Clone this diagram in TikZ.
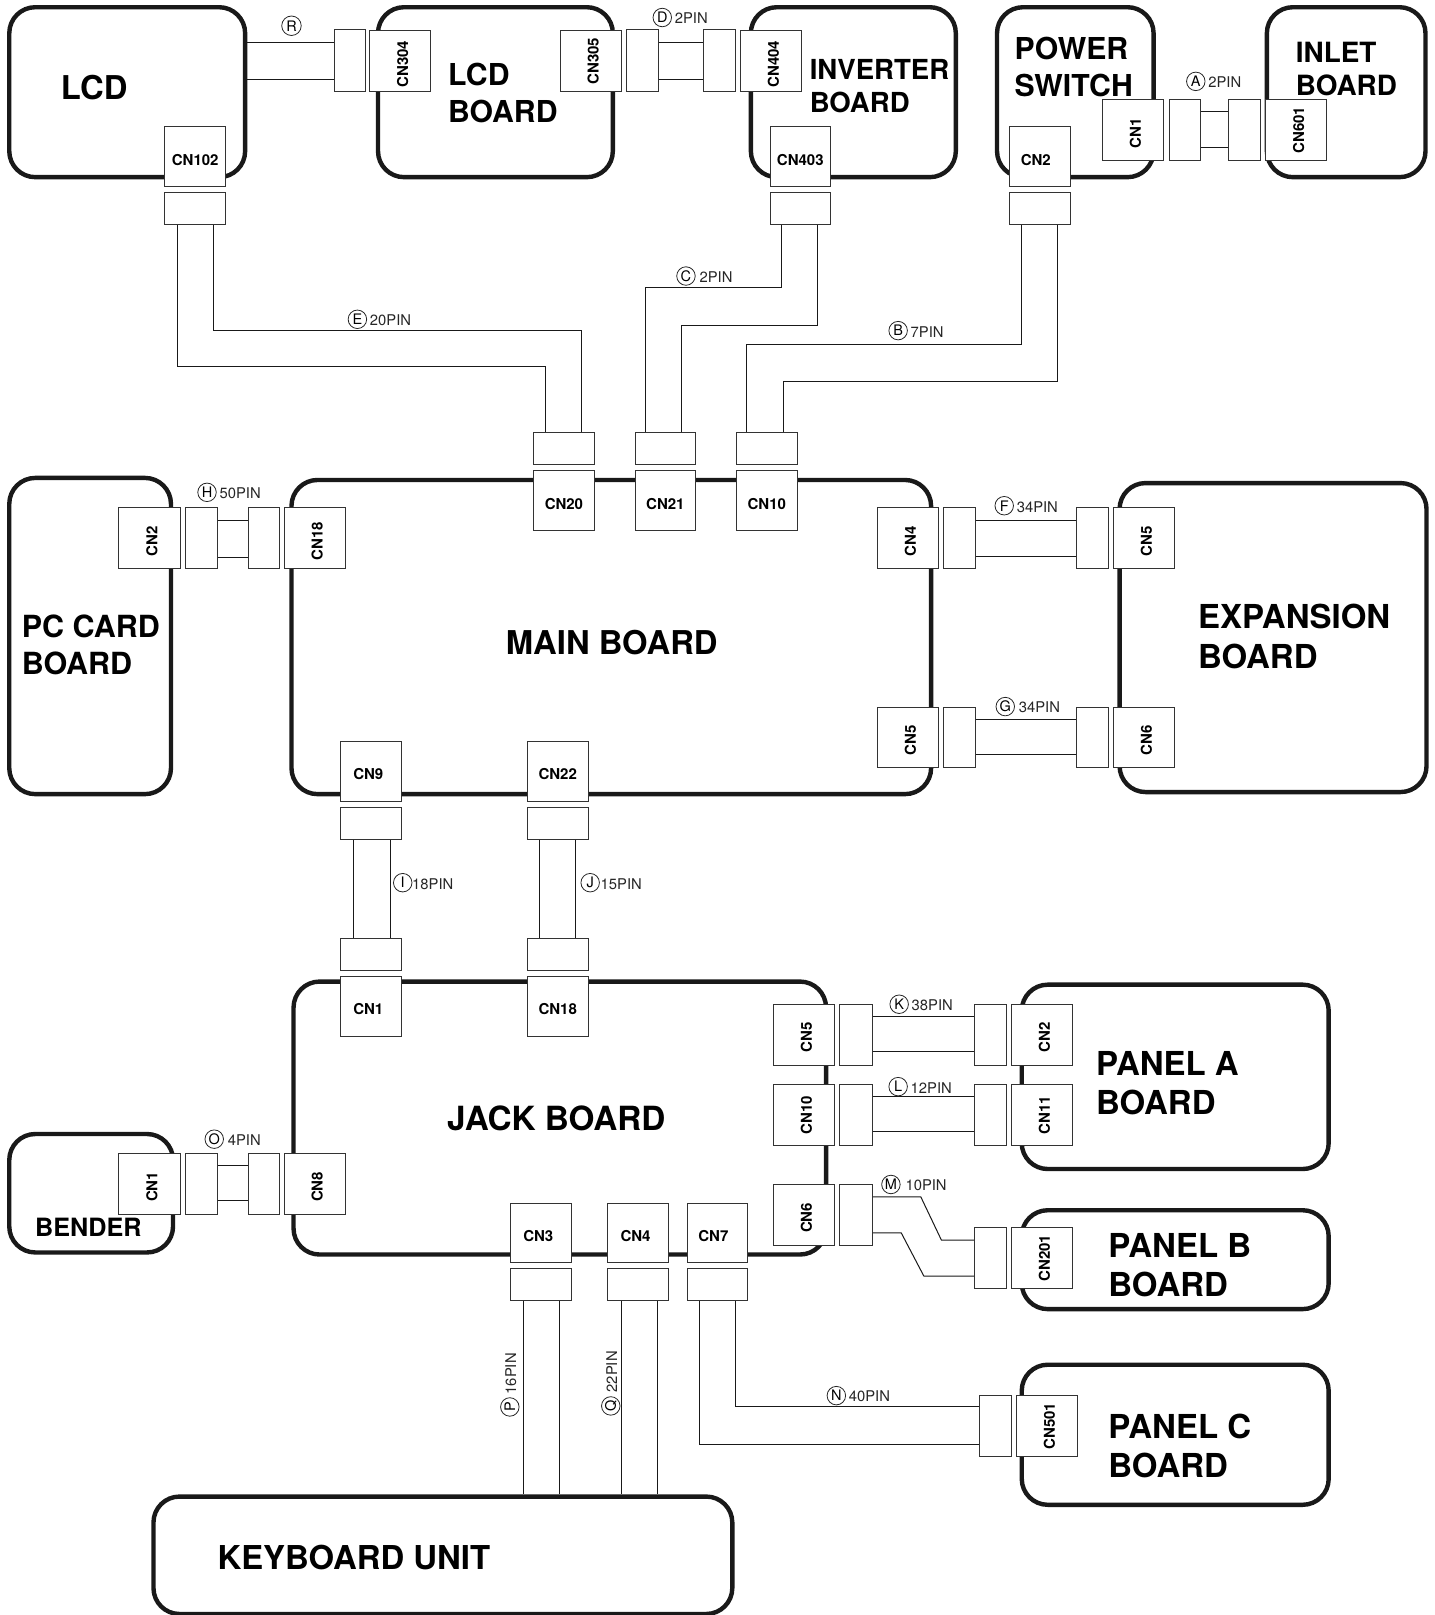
\documentclass[tikz,border=0pt]{standalone}
\usepackage{fontspec}
\usepackage{graphicx}
\setmainfont{TeX Gyre Heros}
\newcommand{\fsz}[1]{\fontsize{#1}{#1}\selectfont}
\tikzset{
  x=1.0301pt,y=-1.0301pt,
  board/.style={draw=black!90,line width=4.4pt,rounded corners=26pt,fill=white},
  boxbase/.style={draw=black!80,line width=1pt,fill=white,inner sep=0pt,font=\bfseries\fsz{15}},
  wire/.style={draw=black!90,line width=1pt},
  title/.style={inner sep=0pt,anchor=west,align=left,font=\bfseries\fsz{32.8}},
  ringmark/.style={draw=black!85,line width=0.8pt,circle,minimum size=18.5pt,inner sep=0pt,font=\fsz{14.5}},
  pintext/.style={inner sep=0pt,anchor=west,font=\fsz{14.8},text=black!85},
}
% \bx[style]{name}{x1}{y1}{x2}{y2}{text}
\newcommand{\bx}[7][boxbase]{%
  \pgfmathsetmacro{\cxx}{(#3+#5)/2}\pgfmathsetmacro{\cyy}{(#4+#6)/2}%
  \pgfmathsetmacro{\www}{(#5-#3)*1.0301}\pgfmathsetmacro{\hhh}{(#6-#4)*1.0301}%
  \node[#1,minimum width=\www pt,minimum height=\hhh pt] (#2) at (\cxx,\cyy) {#7};}
% printed labels sit off centre in their boxes
\newcommand{\low}[2][3pt]{\raisebox{-#1}[\height][\depth]{#2}}
\newcommand{\rot}[1]{\hspace*{5pt}\low{\rotatebox{90}{#1}}}
\newcommand{\rotb}[1]{\hspace*{5pt}\rotatebox{90}{#1}}
\newcommand{\hz}[1]{\low{#1}}
\newcommand{\hzl}[2]{\low{#1}\hspace*{#2}}
% \pin{name}{cx}{cy}{letter}{textx}{text}
\newcommand{\pin}[6]{%
  \node[ringmark] (r#1) at (#2,#3) {#4};
  \node[pintext] (t#1) at (#5,#3+1) {#6};}
\begin{document}
\begin{tikzpicture}
\useasboundingbox (0,0) rectangle (1393,1568);
% boards
\bx[board]{lcd}{9}{7}{238}{172}{}
\bx[board]{lcdb}{367}{7}{595}{172}{}
\bx[board]{inv}{729}{7}{928}{172}{}
\bx[board]{pow}{968}{7}{1120}{172}{}
\bx[board]{inl}{1230}{7}{1384}{172}{}
\bx[board]{pcc}{9}{464}{166}{771}{}
\bx[board]{main}{283}{466}{904}{771}{}
\bx[board]{exp}{1087}{469}{1385}{769}{}
\bx[board]{jack}{285}{953}{802}{1218}{}
\bx[board]{bend}{9}{1101}{168}{1216}{}
\bx[board]{pa}{992}{956}{1290}{1135}{}
\bx[board]{pb}{992}{1175}{1290}{1271}{}
\bx[board]{pc}{992}{1325}{1290}{1461}{}
\bx[board]{kb}{149}{1453}{711}{1567}{}
% titles
\node[title] (tlcd) at (59,85) {LCD};
\node[title,font=\bfseries\fontsize{30.2}{37}\selectfont] (tlcdb) at (435,90) {LCD\\BOARD};
\node[title,font=\bfseries\fontsize{27.6}{33}\selectfont] (tinv) at (786,84) {INVERTER\\BOARD};
\node[title,font=\bfseries\fontsize{30.2}{37}\selectfont] (tpow) at (985,65) {POWER\\SWITCH};
\node[title,font=\bfseries\fontsize{27.9}{33}\selectfont] (tinl) at (1258,67) {INLET\\BOARD};
\node[title,font=\bfseries\fontsize{30.5}{37}\selectfont] (tpcc) at (21,626) {PC CARD\\BOARD};
\node[title] (tmain) at (491,624) {MAIN BOARD};
\node[title,font=\bfseries\fontsize{33}{40}\selectfont] (texp) at (1163,618) {EXPANSION\\BOARD};
\node[title,font=\bfseries\fsz{33.3}] (tjack) at (434,1086) {JACK BOARD};
\node[title,font=\bfseries\fsz{25.2}] (tbend) at (34,1192) {BENDER};
\node[title,font=\bfseries\fontsize{33}{39}\selectfont] (tpa) at (1064,1052) {PANEL A\\BOARD};
\node[title,font=\bfseries\fontsize{33}{39}\selectfont] (tpb) at (1076,1228) {PANEL B\\BOARD};
\node[title,font=\bfseries\fontsize{33}{39}\selectfont] (tpc) at (1076,1404) {PANEL C\\BOARD};
\node[title,font=\bfseries\fsz{32.9}] (tkb) at (211,1512) {KEYBOARD UNIT};
% top row connectors
\bx{c304}{359}{30}{418}{89}{\rot{CN304}}
\bx{p304}{325}{29}{355}{89}{}
\bx{c305}{544}{30}{603}{89}{\rotb{CN305}}
\bx{p305}{608}{29}{639}{89}{}
\bx{p404}{683}{29}{714}{89}{}
\bx{c404}{719}{30}{778}{89}{\rot{CN404}}
\bx{c102}{160}{123}{219}{181}{\hz{CN102}}
\bx{p102}{160}{187}{219}{218}{}
\bx{c403}{748}{123}{806}{181}{\hz{CN403}}
\bx{p403}{748}{187}{806}{218}{}
\bx{cps2}{980}{123}{1039}{181}{\hzl{CN2}{8pt}}
\bx{pps2}{980}{187}{1039}{218}{}
\bx{cps1}{1070}{97}{1130}{156}{\rot{CN1}}
\bx{pps1}{1135}{97}{1166}{156}{}
\bx{p601}{1193}{97}{1224}{156}{}
\bx{c601}{1229}{97}{1288}{156}{\rotb{CN601}}
% main board connectors
\bx{p20}{518}{420}{577}{451}{}
\bx{c20}{518}{457}{577}{515}{\hz{CN20}}
\bx{p21}{617}{420}{675}{451}{}
\bx{c21}{617}{457}{675}{515}{\hz{CN21}}
\bx{p10}{715}{420}{774}{451}{}
\bx{c10}{715}{457}{774}{515}{\hz{CN10}}
\bx{cpc2}{115}{493}{175}{552}{\rot{CN2}}
\bx{ppc2}{180}{493}{211}{552}{}
\bx{p18}{241}{493}{271}{552}{}
\bx{c18}{276}{493}{335}{552}{\rot{CN18}}
\bx{cm4}{852}{493}{911}{552}{\rot{CN4}}
\bx{pm4}{916}{493}{947}{552}{}
\bx{pe5}{1045}{493}{1076}{552}{}
\bx{ce5}{1081}{493}{1140}{552}{\rot{CN5}}
\bx{cm5}{852}{687}{911}{745}{\rot{CN5}}
\bx{pm5}{916}{687}{947}{745}{}
\bx{pe6}{1045}{687}{1076}{745}{}
\bx{ce6}{1081}{687}{1140}{745}{\rot{CN6}}
\bx{c9}{331}{720}{390}{778}{\hzl{CN9}{6pt}}
\bx{p9}{331}{784}{390}{815}{}
\bx{pj1}{331}{911}{390}{942}{}
\bx{cj1}{331}{948}{390}{1006}{\hzl{CN1}{6pt}}
\bx{c22}{512}{720}{571}{778}{\hz{CN22}}
\bx{p22}{512}{784}{571}{815}{}
\bx{pj18}{512}{911}{571}{942}{}
\bx{cj18}{512}{948}{571}{1006}{\hz{CN18}}
% jack board connectors
\bx{cj5}{751}{975}{810}{1034}{\rot{CN5}}
\bx{pj5}{815}{975}{847}{1034}{}
\bx{pa2}{946}{975}{977}{1034}{}
\bx{ca2}{982}{975}{1041}{1034}{\rot{CN2}}
\bx{cj10}{751}{1053}{810}{1112}{\rotb{CN10}}
\bx{pj10}{815}{1053}{847}{1112}{}
\bx{pa11}{946}{1053}{977}{1112}{}
\bx{ca11}{982}{1053}{1041}{1112}{\rotb{CN11}}
\bx{cj6}{751}{1150}{810}{1209}{\rot{CN6}}
\bx{pj6}{815}{1150}{847}{1209}{}
\bx{pb201}{946}{1192}{977}{1251}{}
\bx{cb201}{982}{1192}{1041}{1251}{\rotb{CN201}}
\bx{cb1}{115}{1120}{175}{1179}{\rot{CN1}}
\bx{pb1}{180}{1120}{211}{1179}{}
\bx{pj8}{241}{1120}{271}{1179}{}
\bx{cj8}{276}{1120}{335}{1179}{\rot{CN8}}
\bx{cj3}{496}{1168}{555}{1226}{\hzl{CN3}{6pt}}
\bx{pj3}{496}{1232}{555}{1263}{}
\bx{cj4}{590}{1168}{649}{1226}{\hzl{CN4}{5pt}}
\bx{pj4}{590}{1232}{649}{1263}{}
\bx{cj7}{667}{1168}{726}{1226}{\hzl{CN7}{8pt}}
\bx{pj7}{667}{1232}{726}{1263}{}
\bx{pc501}{951}{1355}{982}{1414}{}
\bx{cc501}{987}{1355}{1046}{1414}{\rotb{CN501}}
% wires
\draw[wire] (lcd.east |- 0,41) -- (p304.west |- 0,41);
\draw[wire] (lcd.east |- 0,77) -- (p304.west |- 0,77);
\draw[wire] (p305.east |- 0,41) -- (p404.west |- 0,41);
\draw[wire] (p305.east |- 0,77) -- (p404.west |- 0,77);
\draw[wire] (pps1.east |- 0,108) -- (p601.west |- 0,108);
\draw[wire] (pps1.east |- 0,143) -- (p601.west |- 0,143);
\draw[wire] (p102.south -| 172,0) -- (172,356) -- (530,356) -- (p20.north -| 530,0);
\draw[wire] (p102.south -| 207,0) -- (207,321) -- (565,321) -- (p20.north -| 565,0);
\draw[wire] (p403.south -| 759,0) -- (759,279) -- (627,279) -- (p21.north -| 627,0);
\draw[wire] (p403.south -| 794,0) -- (794,316) -- (662,316) -- (p21.north -| 662,0);
\draw[wire] (pps2.south -| 992,0) -- (992,334) -- (725,334) -- (p10.north -| 725,0);
\draw[wire] (pps2.south -| 1027,0) -- (1027,370) -- (761,370) -- (p10.north -| 761,0);
\draw[wire] (ppc2.east |- 0,505) -- (p18.west |- 0,505);
\draw[wire] (ppc2.east |- 0,541) -- (p18.west |- 0,541);
\draw[wire] (pm4.east |- 0,505) -- (pe5.west |- 0,505);
\draw[wire] (pm4.east |- 0,540) -- (pe5.west |- 0,540);
\draw[wire] (pm5.east |- 0,699) -- (pe6.west |- 0,699);
\draw[wire] (pm5.east |- 0,733) -- (pe6.west |- 0,733);
\draw[wire] (p9.south -| 343,0) -- (pj1.north -| 343,0);
\draw[wire] (p9.south -| 379,0) -- (pj1.north -| 379,0);
\draw[wire] (p22.south -| 524,0) -- (pj18.north -| 524,0);
\draw[wire] (p22.south -| 559,0) -- (pj18.north -| 559,0);
\draw[wire] (pj5.east |- 0,987) -- (pa2.west |- 0,987);
\draw[wire] (pj5.east |- 0,1021) -- (pa2.west |- 0,1021);
\draw[wire] (pj10.east |- 0,1065) -- (pa11.west |- 0,1065);
\draw[wire] (pj10.east |- 0,1099) -- (pa11.west |- 0,1099);
\draw[wire] (pj6.east |- 0,1162) -- (894,1162) -- (914,1204) -- (pb201.west |- 0,1204);
\draw[wire] (pj6.east |- 0,1197) -- (875,1197) -- (897,1239) -- (pb201.west |- 0,1239);
\draw[wire] (pb1.east |- 0,1132) -- (pj8.west |- 0,1132);
\draw[wire] (pb1.east |- 0,1166) -- (pj8.west |- 0,1166);
\draw[wire] (pj3.south -| 508,0) -- (kb.north -| 508,0);
\draw[wire] (pj3.south -| 543,0) -- (kb.north -| 543,0);
\draw[wire] (pj4.south -| 603,0) -- (kb.north -| 603,0);
\draw[wire] (pj4.south -| 638,0) -- (kb.north -| 638,0);
\draw[wire] (pj7.south -| 714,0) -- (714,1366) -- (pc501.west |- 0,1366);
\draw[wire] (pj7.south -| 679,0) -- (679,1402) -- (pc501.west |- 0,1402);
% pin labels
\node[ringmark,minimum size=19.5pt] (rR) at (283,25) {R};
\pin{D}{643}{17}{D}{655}{2PIN}
\pin{A}{1161}{79}{A}{1173}{2PIN}
\pin{C}{666}{268}{C}{679}{2PIN}
\pin{E}{347}{310}{E}{359}{20PIN}
\pin{B}{872}{321}{B}{884}{7PIN}
\pin{H}{201}{478}{H}{213}{50PIN}
\pin{F}{975}{491}{F}{987}{34PIN}
\pin{G}{976}{686}{G}{989}{34PIN}
\pin{I}{391}{857}{I}{400}{18PIN}
\pin{J}{573}{857}{J}{583}{15PIN}
\pin{K}{873}{975}{K}{885}{38PIN}
\pin{L}{872}{1055}{L}{884}{12PIN}
\pin{M}{865}{1150}{M}{879}{10PIN}
\pin{O}{208}{1106}{O}{221}{4PIN}
\pin{N}{812}{1355}{N}{824}{40PIN}
\node[ringmark,rotate=90] (rP) at (495,1366) {P};
\node[pintext,rotate=90] (tP) at (496,1354) {16PIN};
\node[ringmark,rotate=90] (rQ) at (593,1365) {Q};
\node[pintext,rotate=90] (tQ) at (594,1352) {22PIN};
\end{tikzpicture}
\end{document}
